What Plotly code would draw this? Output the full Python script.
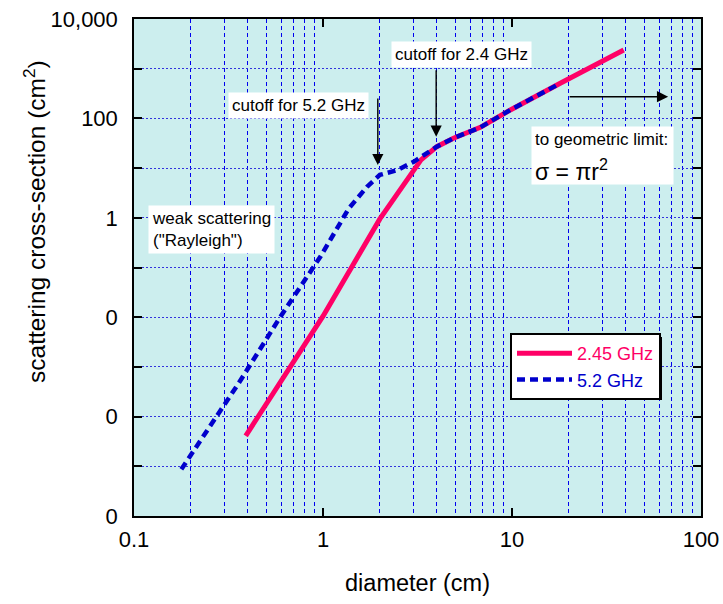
import numpy as np
import plotly.graph_objects as go

# ---- data ----
d_245 = [0.39, 1.0, 2.0, 2.8, 3.3, 4.0, 4.9, 6.8, 9.8, 18, 39]
s_245 = [4.1e-5, 0.0105, 0.95, 5.8, 14.6, 27, 40, 66, 148, 508, 2380]

d_52 = [0.178, 0.358, 0.595, 0.97, 1.37, 1.71, 2.0, 2.47, 3.02, 3.7, 4.0, 4.9, 6.8, 9.8, 18]
s_52 = [8.7e-6, 4.7e-4, 0.0102, 0.166, 1.55, 4.2, 7.3, 9.1, 13.4, 23, 27, 40, 66, 148, 508]

y_tickvals = [1e-6, 1e-5, 1e-4, 1e-3, 1e-2, 1e-1, 1, 10, 100, 1000, 10000]
y_ticktext = ["0", "", "0", "", "0", "", "1", "", "100", "", "10,000"]

# arrow targets (diameter, cross-section)
arrow_52 = (1.95, 11.5)
arrow_24 = (3.97, 42.7)
arrow_geo = (67, 273)

PINK = "#FF0066"
BLUE = "#0000CC"
FONT = "Liberation Sans, Arial, sans-serif"

fig = go.Figure()
fig.add_trace(go.Scatter(x=d_245, y=s_245, mode="lines",
                         name=f"<span style='color:{PINK}'>2.45 GHz</span>",
                         line=dict(color=PINK, width=5)))
fig.add_trace(go.Scatter(x=d_52, y=s_52, mode="lines",
                         name=f"<span style='color:{BLUE}'>5.2 GHz</span>",
                         line=dict(color=BLUE, width=4.5, dash="8px,5px")))

W, H = 723, 604
ml, mr, mt, mb = 134, 22, 19, 88
pw, ph = W - ml - mr, H - mt - mb

def px(xp):
    return (xp - ml) / pw

def py(yp):
    return 1 - (yp - mt) / ph

ann = []
box = dict(bgcolor="white", borderpad=3, showarrow=False,
           font=dict(family=FONT, size=17, color="black"))
ann.append(dict(text="cutoff for 5.2 GHz", xref="paper", yref="paper",
                x=px(298.5), y=py(105.5), xanchor="center", yanchor="middle", **box))
ann.append(dict(text="cutoff for 2.4 GHz", xref="paper", yref="paper",
                x=px(461.5), y=py(54.5), xanchor="center", yanchor="middle", **box))
ann.append(dict(text="weak scattering<br>(\"Rayleigh\")", xref="paper", yref="paper",
                x=px(148), y=py(205), xanchor="left", yanchor="top", align="left", **box))
ann.append(dict(text="to geometric limit:", xref="paper", yref="paper",
                x=px(531), y=py(126), xanchor="left", yanchor="top", align="left",
                valign="top", width=135, height=51, **box))
ann.append(dict(text="σ = πr<sup>2</sup>", xref="paper", yref="paper",
                x=px(533), y=py(170), xanchor="left", yanchor="middle", showarrow=False,
                font=dict(family=FONT, size=23, color="black")))
# y-axis title (placed as in the reference, slightly above centre)
ann.append(dict(text="scattering cross-section (cm<sup>2</sup>)", xref="paper", yref="paper",
                x=px(34), y=py(222), xanchor="center", yanchor="middle", textangle=-90,
                showarrow=False, font=dict(family=FONT, size=24.5, color="black")))

arr = dict(text="", showarrow=True, arrowhead=2, arrowsize=1.6, arrowwidth=1.4,
           arrowcolor="black", xref="x", yref="y")
ann.append(dict(x=np.log10(arrow_52[0]), y=np.log10(arrow_52[1]), ax=0, ay=-68, **arr))
ann.append(dict(x=np.log10(arrow_24[0]), y=np.log10(arrow_24[1]), ax=0, ay=-68, **arr))
ann.append(dict(x=np.log10(arrow_geo[0]), y=np.log10(arrow_geo[1]), ax=-100, ay=0, **arr))

# legend shadow
shapes = [dict(type="rect", xref="paper", yref="paper",
               x0=px(514), x1=px(662), y0=py(400), y1=py(337),
               fillcolor="black", line=dict(width=0), layer="above")]

fig.update_layout(
    width=W, height=H,
    margin=dict(l=ml, r=mr, t=mt, b=mb),
    paper_bgcolor="white", plot_bgcolor="#CCEEEE",
    font=dict(family=FONT, size=22, color="black"),
    showlegend=True,
    legend=dict(x=px(510), y=py(333), xanchor="left", yanchor="top",
                bgcolor="white", bordercolor="black", borderwidth=2,
                itemwidth=55, tracegroupgap=0,
                font=dict(family=FONT, size=18)),
    annotations=ann, shapes=shapes,
)
fig.update_xaxes(type="log", range=[-1, 2], dtick=1, automargin=False,
                 showline=True, linecolor="black", linewidth=1.5, mirror="ticks",
                 ticks="inside", ticklen=8, tickcolor="black", tickwidth=1.5,
                 showgrid=False, zeroline=False,
                 minor=dict(dtick="D1", showgrid=True, gridcolor="#0000EE",
                            gridwidth=1, griddash="4px,3px", ticks=""),
                 tickfont=dict(size=22), ticklabelstandoff=3,
                 title=dict(text="diameter (cm)", font=dict(size=23.5), standoff=23))
fig.update_yaxes(type="log", range=[-6, 4], tickvals=y_tickvals, ticktext=y_ticktext,
                 automargin=False,
                 showline=True, linecolor="black", linewidth=1.5, mirror="ticks",
                 ticks="inside", ticklen=8, tickcolor="black", tickwidth=1.5,
                 showgrid=True, gridcolor="#3333DD", gridwidth=1, griddash="2px,2px",
                 zeroline=False,
                 tickfont=dict(size=22), ticklabelstandoff=10)

fig.write_html("out.html", config={"displayModeBar": False},
               post_script="document.body.style.margin='0';document.body.style.overflow='hidden';")
